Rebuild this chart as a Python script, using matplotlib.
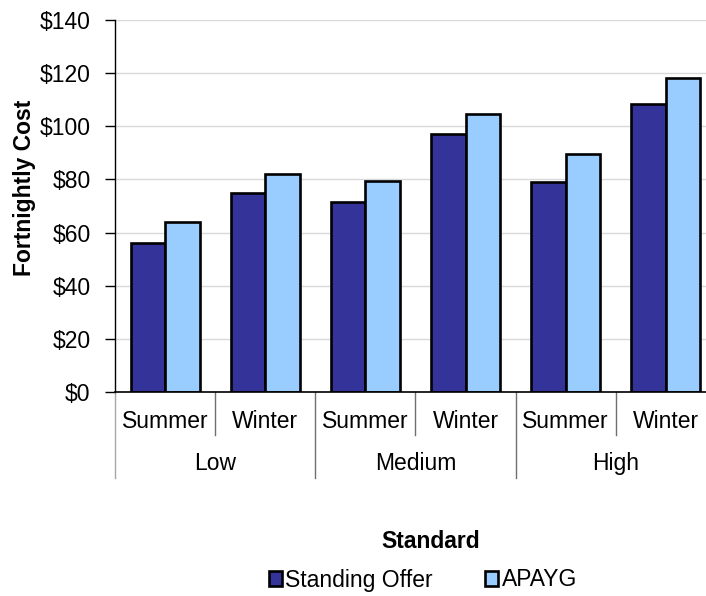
import numpy as np
import matplotlib.pyplot as plt
from matplotlib.patches import Patch
from matplotlib.ticker import FuncFormatter

plt.rcParams["font.family"] = ["Liberation Sans", "DejaVu Sans"]

seasons = ["Summer", "Winter", "Summer", "Winter", "Summer", "Winter"]
levels = ["Low", "Medium", "High"]
standing_offer = [56, 75, 71.5, 97, 79, 108.5]
apayg = [64, 82, 79.5, 104.5, 89.5, 118]
series_names = ["Standing Offer", "APAYG"]
colors = ["#333399", "#99CCFF"]

FS = 16.5

fig = plt.figure(figsize=(7.06, 5.96), dpi=100)
ax = fig.add_axes([115 / 706, 204 / 596, 601 / 706, 372 / 596])

x = np.arange(len(seasons))
w = 0.345
ax.bar(x - w / 2, standing_offer, w, color=colors[0], edgecolor="black",
       linewidth=1.9, zorder=3)
ax.bar(x + w / 2, apayg, w, color=colors[1], edgecolor="black",
       linewidth=1.9, zorder=3)

ax.set_xlim(-0.5, 5.5)
ax.set_ylim(0, 140)
ax.set_yticks(np.arange(0, 141, 20))
ax.yaxis.set_major_formatter(FuncFormatter(lambda v, p: f"${v:.0f}"))
ax.tick_params(axis="y", labelsize=FS, length=7, width=1, pad=10.5,
               direction="out")
ax.set_xticks([])
ax.grid(axis="y", color="#d9d9d9", linewidth=1, zorder=0)

for s in ["top", "right"]:
    ax.spines[s].set_visible(False)
ax.spines["left"].set_linewidth(1)
ax.spines["bottom"].set_linewidth(1.2)
ax.spines["bottom"].set_zorder(4)

# two-level category labels under the axis
tr = ax.get_xaxis_transform()
for i, s in enumerate(seasons):
    ax.text(i, -0.078, s, transform=tr, ha="center", va="center", fontsize=FS)
for g, name in enumerate(levels):
    ax.text(2 * g + 0.5, -0.191, name, transform=tr, ha="center",
            va="center", fontsize=FS)
for i in range(6):
    xs = i - 0.5
    y_end = -0.231 if i % 2 == 0 else -0.116
    col = "#a6a6a6" if i == 0 else "#707070"
    ax.plot([xs, xs], [0, y_end], transform=tr, color=col,
            linewidth=1, clip_on=False)

fig.text(24 / 706, 1 - 188 / 596, "Fortnightly Cost", rotation=90,
         ha="center", va="center", fontsize=FS, fontweight="bold")
fig.text(431 / 706, 1 - 541 / 596, "Standard", ha="center", va="center",
         fontsize=FS, fontweight="bold")

handles = [Patch(facecolor=c, edgecolor="black", linewidth=1.9) for c in colors]
fig.legend(handles, series_names, loc="center", ncol=2,
           bbox_to_anchor=(423 / 706, 1 - 580 / 596), frameon=False,
           fontsize=FS, handlelength=0.55, handleheight=0.6,
           handletextpad=0.15, columnspacing=2.3, borderpad=0)

fig.savefig("out.png", dpi=100)
